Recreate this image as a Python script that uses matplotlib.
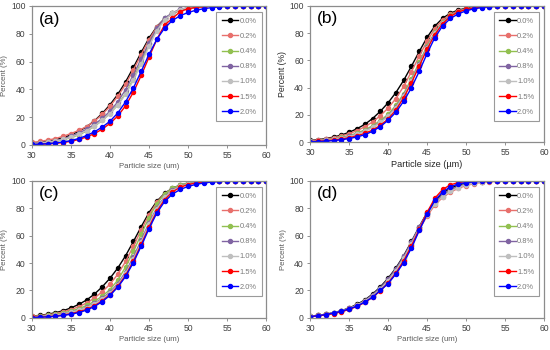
import matplotlib
matplotlib.use("Agg")
import matplotlib.pyplot as plt

plt.rcParams['font.family'] = ['Liberation Sans', 'DejaVu Sans']

# particle size (um), 30..60 step 1
size = list(range(30, 61))
labels = ["0.0%", "0.2%", "0.4%", "0.8%", "1.0%", "1.5%", "2.0%"]
colors = ["#000000", "#e8706c", "#92c050", "#8064a2", "#bfbfbf", "#ff0000", "#0000ff"]

# reference curve (0.0%), same in every panel
ctrl = [1.2, 1.8, 2.6, 3.7, 5.2, 7.2, 9.8, 13.0, 17.3, 22.6,
        28.9, 36.4, 45.4, 55.8, 66.6, 76.9, 85.2, 91.0, 94.7, 97.0,
        98.3, 99.1, 99.6, 99.8, 99.9, 100, 100, 100, 100, 100, 100]

# panel (a)
a02 = [1.8, 2.5, 3.4, 4.6, 6.2, 8.2, 10.4, 13.2, 17.0, 21.9,
       27.8, 35.0, 43.6, 54.0, 65.0, 75.8, 84.8, 90.8, 94.6, 97.0,
       98.4, 99.2, 99.7, 99.9, 100, 100, 100, 100, 100, 100, 100]
a04 = [0.8, 1.2, 1.8, 2.6, 3.7, 5.2, 7.2, 9.9, 13.4, 17.6,
       22.6, 29.0, 37.0, 47.6, 59.6, 72.4, 83.4, 90.6, 94.8, 97.2,
       98.6, 99.4, 99.8, 100, 100, 100, 100, 100, 100, 100, 100]
a08 = [1.0, 1.5, 2.2, 3.1, 4.4, 6.1, 8.4, 11.3, 14.8, 19.0,
       24.2, 31.0, 39.8, 50.4, 62.0, 73.6, 84.0, 91.0, 95.2, 97.6,
       98.8, 99.5, 99.8, 100, 100, 100, 100, 100, 100, 100, 100]
a10 = [0.9, 1.3, 1.9, 2.8, 3.9, 5.5, 7.6, 10.3, 13.6, 17.6,
       22.4, 28.6, 36.4, 46.6, 58.4, 71.0, 82.2, 90.0, 94.8, 97.4,
       98.7, 99.4, 99.8, 100, 100, 100, 100, 100, 100, 100, 100]
a15 = [0.2, 0.4, 0.7, 1.1, 1.7, 2.6, 3.9, 5.7, 8.1, 11.3,
       15.5, 20.8, 28.2, 38.0, 50.0, 63.2, 76.0, 86.4, 91.0, 96.0,
       98.0, 99.0, 99.5, 99.8, 100, 100, 100, 100, 100, 100, 100]
a20 = [0.3, 0.5, 0.9, 1.4, 2.1, 3.1, 4.6, 6.7, 9.4, 12.8,
       17.0, 23.0, 31.0, 41.0, 53.0, 65.2, 76.0, 84.2, 89.6, 93.0,
       95.3, 96.9, 98.0, 98.8, 99.3, 99.7, 99.9, 100, 100, 100, 100]

# panel (b)
b02 = [1.0, 1.5, 2.2, 3.2, 4.5, 6.2, 8.4, 11.2, 14.8, 19.4,
       25.0, 32.0, 41.0, 51.8, 63.2, 74.2, 83.4, 89.8, 93.8, 96.4,
       97.9, 98.8, 99.4, 99.7, 99.9, 100, 100, 100, 100, 100, 100]
b04 = [0.7, 1.1, 1.6, 2.4, 3.4, 4.8, 6.6, 8.9, 12.0, 15.8,
       20.4, 27.0, 35.6, 46.6, 58.6, 70.6, 80.8, 88.2, 93.0, 95.9,
       97.6, 98.6, 99.2, 99.6, 99.8, 100, 100, 100, 100, 100, 100]
b08 = [0.6, 0.9, 1.4, 2.1, 3.0, 4.3, 6.0, 8.2, 11.1, 14.8,
       19.4, 25.8, 34.4, 45.2, 57.4, 69.6, 80.2, 87.8, 92.8, 95.8,
       97.5, 98.5, 99.1, 99.5, 99.8, 100, 100, 100, 100, 100, 100]
b10 = [0.6, 0.9, 1.3, 2.0, 2.9, 4.1, 5.8, 7.9, 10.8, 14.4,
       19.0, 25.2, 33.8, 44.6, 56.8, 69.2, 79.8, 87.6, 92.6, 95.7,
       97.5, 98.5, 99.1, 99.5, 99.8, 100, 100, 100, 100, 100, 100]
b15 = [0.4, 0.6, 1.0, 1.5, 2.2, 3.2, 4.6, 6.4, 8.8, 12.2,
       17.0, 23.6, 32.6, 43.6, 56.0, 68.2, 79.0, 87.0, 92.4, 95.6,
       97.4, 98.5, 99.2, 99.6, 99.8, 100, 100, 100, 100, 100, 100]
b20 = [0.2, 0.4, 0.7, 1.1, 1.7, 2.6, 3.8, 5.4, 7.9, 11.4,
       16.0, 22.0, 30.0, 40.0, 52.0, 65.0, 76.8, 85.4, 90.8, 94.2,
       96.4, 97.9, 98.8, 99.4, 99.7, 99.9, 100, 100, 100, 100, 100]

# panel (c)
c02 = [1.0, 1.5, 2.2, 3.1, 4.4, 6.0, 8.1, 10.8, 14.4, 19.0,
       24.6, 31.8, 41.2, 52.4, 64.2, 75.4, 84.4, 90.6, 94.4, 96.8,
       98.2, 99.0, 99.5, 99.8, 99.9, 100, 100, 100, 100, 100, 100]
c04 = [0.8, 1.2, 1.7, 2.5, 3.5, 4.9, 6.7, 9.0, 12.0, 15.8,
       20.6, 27.6, 37.2, 48.6, 61.0, 73.2, 83.4, 90.6, 94.6, 97.0,
       98.4, 99.2, 99.6, 99.8, 100, 100, 100, 100, 100, 100, 100]
c08 = [0.6, 0.9, 1.4, 2.0, 2.9, 4.1, 5.7, 7.8, 10.6, 14.2,
       18.8, 25.0, 33.6, 44.4, 56.8, 69.4, 80.4, 88.6, 93.4, 96.2,
       97.8, 98.8, 99.4, 99.7, 99.9, 100, 100, 100, 100, 100, 100]
c10 = [0.6, 0.9, 1.3, 1.9, 2.8, 4.0, 5.5, 7.5, 10.2, 13.6,
       18.0, 24.0, 32.4, 43.0, 55.4, 68.2, 79.6, 88.0, 93.0, 96.0,
       97.7, 98.7, 99.3, 99.7, 99.9, 100, 100, 100, 100, 100, 100]
c15 = [0.3, 0.5, 0.8, 1.3, 2.0, 3.0, 4.4, 6.2, 8.8, 12.4,
       17.0, 23.0, 31.0, 41.4, 53.6, 66.4, 77.8, 86.4, 92.0, 95.4,
       97.4, 98.5, 99.2, 99.6, 99.8, 100, 100, 100, 100, 100, 100]
c20 = [0.2, 0.4, 0.7, 1.1, 1.7, 2.6, 3.8, 5.6, 8.2, 11.8,
       16.4, 22.4, 30.2, 40.4, 52.4, 65.2, 76.6, 85.0, 90.4, 93.8,
       96.0, 97.5, 98.5, 99.2, 99.6, 99.9, 100, 100, 100, 100, 100]

# panel (d)
d02 = [1.2, 1.8, 2.6, 3.6, 5.0, 6.8, 9.0, 12.0, 15.8, 20.6,
       26.4, 33.6, 42.4, 53.0, 64.4, 74.4, 82.4, 88.0, 91.8, 94.6,
       96.6, 98.0, 98.9, 99.4, 99.7, 99.9, 100, 100, 100, 100, 100]
d04 = [1.1, 1.7, 2.5, 3.5, 4.9, 6.7, 9.1, 12.2, 16.2, 21.2,
       27.2, 34.6, 43.6, 54.2, 65.4, 75.6, 83.8, 89.4, 93.2, 95.8,
       97.6, 98.7, 99.4, 99.7, 99.9, 100, 100, 100, 100, 100, 100]
d08 = [1.1, 1.7, 2.5, 3.6, 5.0, 6.9, 9.4, 12.6, 16.8, 22.0,
       28.2, 35.8, 44.8, 55.4, 66.6, 76.6, 84.6, 90.0, 93.6, 96.0,
       97.7, 98.8, 99.4, 99.8, 99.9, 100, 100, 100, 100, 100, 100]
d10 = [1.1, 1.6, 2.4, 3.4, 4.8, 6.6, 9.0, 12.0, 16.0, 21.0,
       27.0, 34.4, 43.4, 54.0, 65.2, 75.4, 83.2, 88.6, 92.4, 95.2,
       97.2, 98.4, 99.1, 99.6, 99.8, 100, 100, 100, 100, 100, 100]
d15 = [0.9, 1.4, 2.1, 3.1, 4.4, 6.1, 8.3, 11.2, 15.0, 19.8,
       25.4, 32.6, 41.6, 52.6, 64.6, 77.0, 87.4, 93.8, 97.2, 98.8,
       99.5, 99.8, 100, 100, 100, 100, 100, 100, 100, 100, 100]
d20 = [0.9, 1.6, 2.4, 3.5, 4.8, 6.5, 8.5, 11.5, 15.0, 20.0,
       25.0, 32.0, 40.4, 51.0, 63.8, 75.6, 85.8, 92.0, 95.8, 97.8,
       98.8, 99.4, 99.7, 99.9, 100, 100, 100, 100, 100, 100, 100]

panels = [
    ("(a)", [ctrl, a02, a04, a08, a10, a15, a20], "Particle size (um)"),
    ("(b)", [ctrl, b02, b04, b08, b10, b15, b20], "Particle size (\u00b5m)"),
    ("(c)", [ctrl, c02, c04, c08, c10, c15, c20], "Particle size (um)"),
    ("(d)", [ctrl, d02, d04, d08, d10, d15, d20], "Particle size (um)"),
]
# axes rectangles in figure fraction
rects = [
    [0.058, 0.586, 0.426, 0.397],
    [0.564, 0.594, 0.425, 0.389],
    [0.058, 0.092, 0.426, 0.391],
    [0.564, 0.092, 0.425, 0.391],
]

fig = plt.figure(figsize=(5.5, 3.5), dpi=100)
txt = "#595959"

for (tag, series, xlab), rect in zip(panels, rects):
    ax = fig.add_axes(rect)
    for ys, lab, col in zip(series, labels, colors):
        ax.plot(size, ys, color=col, lw=1.0, marker="o", ms=2.9,
                mec=col, mfc=col, label=lab)
    ax.set_xlim(30, 60)
    ax.set_ylim(0, 100)
    ax.set_xticks(range(30, 61, 5))
    ax.set_yticks(range(0, 101, 20))
    ax.tick_params(labelsize=6.2, colors="#7f7f7f", labelcolor="#404040",
                   length=2.5, width=0.6, pad=2)
    for sp in ax.spines.values():
        sp.set_color("#8c8c8c")
        sp.set_linewidth(0.9)
    big = tag == "(b)"
    ax.set_xlabel(xlab, fontsize=6.6 if big else 5.6,
                  color="#262626" if big else txt, labelpad=2)
    ax.set_ylabel("Percent (%)", fontsize=6.2 if big else 5.6,
                  color="#262626" if big else txt, labelpad=2)
    ax.text(0.03, 0.96, tag, transform=ax.transAxes, fontsize=12.5,
            va="top", ha="left")
    leg = ax.legend(loc="upper right", bbox_to_anchor=(0.997, 0.98),
                    fontsize=5.4, handlelength=2.2, labelspacing=1.05,
                    borderpad=0.7, handletextpad=0.15, fancybox=False,
                    framealpha=1, edgecolor="#9a9a9a")
    leg.get_frame().set_linewidth(0.8)
    for t in leg.get_texts():
        t.set_color("#7a7a7a")

fig.savefig("out.png", dpi=100)
